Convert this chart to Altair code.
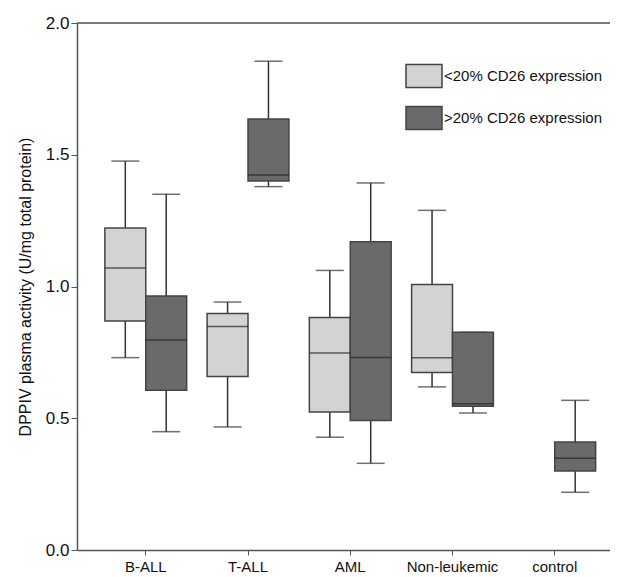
import altair as alt
import pandas as pd

groups = ["B-ALL", "B-ALL", "T-ALL", "T-ALL", "AML", "AML", "Non-leukemic", "Non-leukemic", "control"]
series = ["<20% CD26 expression", ">20% CD26 expression"] * 4 + [">20% CD26 expression"]
mins = [0.730, 0.449, 0.467, 1.379, 0.428, 0.329, 0.619, 0.520, 0.219]
q1s = [0.869, 0.606, 0.658, 1.400, 0.524, 0.491, 0.674, 0.546, 0.300]
medians = [1.070, 0.797, 0.848, 1.423, 0.748, 0.731, 0.730, 0.555, 0.348]
q3s = [1.222, 0.964, 0.898, 1.636, 0.882, 1.170, 1.008, 0.826, 0.410]
maxs = [1.476, 1.350, 0.941, 1.855, 1.061, 1.393, 1.289, 0.826, 0.568]

categories = ["B-ALL", "T-ALL", "AML", "Non-leukemic", "control"]
series_order = ["<20% CD26 expression", ">20% CD26 expression"]
y_ticks = [0.0, 0.5, 1.0, 1.5, 2.0]

df = pd.DataFrame({"group": groups, "series": series, "min": mins, "q1": q1s,
                   "median": medians, "q3": q3s, "max": maxs})

FONT = "Liberation Sans"

x = alt.X("group:N", sort=categories, title=None,
          scale=alt.Scale(domain=categories, paddingInner=0.2, paddingOuter=0.2065, align=0.66),
          axis=alt.Axis(labelAngle=0, labelFontSize=15, labelFont=FONT, labelColor="#111",
                        tickSize=5, tickColor="#555", domainColor="#555", domainWidth=1.5,
                        labelPadding=4))
xo = alt.XOffset("series:N", sort=series_order,
                 scale=alt.Scale(domain=series_order, paddingInner=0, paddingOuter=0))
y_scale = alt.Scale(domain=[0, 2], nice=False)
y = alt.Y("q1:Q", scale=y_scale, title="DPPIV plasma activity (U/mg total protein)",
          axis=alt.Axis(values=y_ticks, format=".1f", labelFontSize=17, labelFont=FONT,
                        labelColor="#111", titleFont=FONT, titleFontSize=16, titleFontWeight="normal",
                        titleColor="#111", tickSize=6, tickColor="#555", domainColor="#555",
                        domainWidth=1.5, grid=False, titlePadding=12, labelPadding=2))

color = alt.Color("series:N", sort=series_order,
                  scale=alt.Scale(domain=series_order, range=["#d3d3d3", "#6a6a6a"]),
                  legend=alt.Legend(title=None, orient="none", legendX=328, legendY=34,
                                    symbolType="M-1,-0.64L1,-0.64L1,0.64L-1,0.64Z",
                                    symbolSize=1296, symbolStrokeColor="#444",
                                    symbolStrokeWidth=1.5, labelFontSize=15, labelFont=FONT,
                                    labelColor="#111", rowPadding=8, labelOffset=1,
                                    labelLimit=400, symbolOpacity=1))

base = alt.Chart(df)

whisk_lo = base.mark_rule(color="#333", strokeWidth=1.5).encode(
    x=x, xOffset=xo, y=alt.Y("min:Q", scale=y_scale), y2="q1:Q")
whisk_hi = base.mark_rule(color="#333", strokeWidth=1.5).encode(
    x=x, xOffset=xo, y=alt.Y("q3:Q", scale=y_scale), y2="max:Q")
cap_lo = base.mark_tick(color="#333", size=28, thickness=1.5, orient="horizontal").encode(
    x=x, xOffset=xo, y=alt.Y("min:Q", scale=y_scale))
cap_hi = base.mark_tick(color="#333", size=28, thickness=1.5, orient="horizontal").encode(
    x=x, xOffset=xo, y=alt.Y("max:Q", scale=y_scale))
box = base.mark_bar(stroke="#444", strokeWidth=1.5, opacity=1).encode(
    x=x, xOffset=xo, y=y, y2="q3:Q", color=color)
med = base.mark_tick(color="#222", size=41, thickness=1.5, orient="horizontal").encode(
    x=x, xOffset=xo, y=alt.Y("median:Q", scale=y_scale))
top = alt.Chart(pd.DataFrame({"v": [2.0]})).mark_rule(color="#555", strokeWidth=1.5).encode(
    y=alt.Y("v:Q", scale=y_scale))

chart = alt.layer(whisk_lo, whisk_hi, cap_lo, cap_hi, box, med, top).properties(
    width=533, height=527,
    autosize=alt.AutoSizeParams(type="none"),
    padding={"left": 69, "top": 15, "right": 0, "bottom": 26},
).configure_view(stroke=None).configure(background="white")

chart.save("out.html", embed_options={"renderer": "svg", "actions": False})
